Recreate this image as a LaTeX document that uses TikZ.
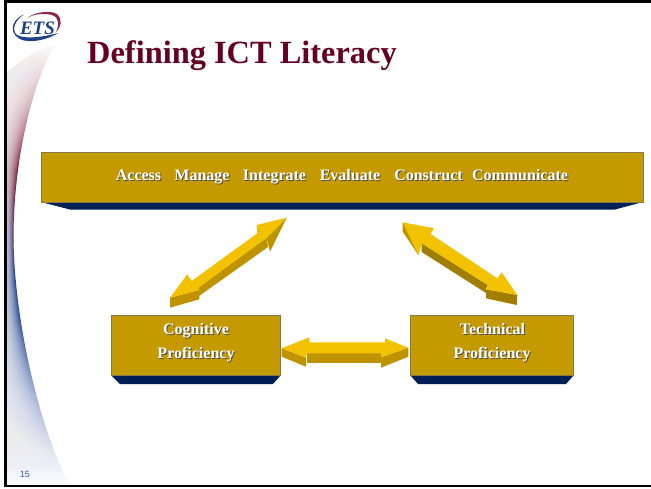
\documentclass[tikz,border=0pt]{standalone}
\usepackage{fontspec}
\setmainfont{Liberation Serif}
\newfontfamily\arialf{Liberation Sans}
\definecolor{gold}{HTML}{C49A00}
\definecolor{navy}{HTML}{001F54}
\definecolor{edgeg}{HTML}{857A45}
\definecolor{arrowtop}{HTML}{F2C200}
\definecolor{arrowlow}{HTML}{BF9300}
\definecolor{arrowdark}{HTML}{A07F00}
\definecolor{maroon}{HTML}{660022}
\definecolor{logoblue}{HTML}{1F3F8A}
\definecolor{logored}{HTML}{8A2A48}
\definecolor{numblue}{HTML}{3A5AA0}
\definecolor{sa}{HTML}{D8B8C2}
\definecolor{sb}{HTML}{B87B90}
\definecolor{sc}{HTML}{7A2540}
\definecolor{sd}{HTML}{6A2A50}
\definecolor{se}{HTML}{4A3A80}
\definecolor{sf}{HTML}{1F3F8A}
\definecolor{sg}{HTML}{2F4F98}
\definecolor{sh}{HTML}{6A82B8}
\definecolor{si}{HTML}{A8B5D8}
\definecolor{sj}{HTML}{D5DCEC}
\tikzset{
 x=1pt,y=-1pt,
 box/.style={fill=gold,draw=edgeg,line width=1pt},
 base/.style={fill=navy,draw=none},
 lab/.style={font=\bfseries\fontsize{16}{18}\selectfont,inner sep=0pt,anchor=base},
 aup/.style={fill=arrowtop,draw=none},
 alow/.style={fill=arrowlow,draw=none},
 adark/.style={fill=arrowdark,draw=none},
 frameline/.style={black,line width=2.5pt},
}
\newcommand{\swooshpath}{(5,74) .. controls (20,60) and (40,48) .. (55,45)
 .. controls (36,75) and (14,150) .. (13.5,235)
 .. controls (13.5,320) and (40,430) .. (70,486) -- (5,486) -- cycle}
\newcommand{\shlabel}[3]{%
 \node[lab,text=black!70] at (#1+1,#2+1) {#3};
 \node[lab,text=white] at (#1,#2) {#3};}
\newcommand{\vband}[4]{\shade[top color=#3,bottom color=#4] (0,#1) rectangle (90,#2+.4);}
\begin{document}
\begin{tikzpicture}
\useasboundingbox (0,0) rectangle (651,488);
\fill[white] (0,0) rectangle (651,488);
% swoosh
\begin{scope}
\clip \swooshpath;
\vband{40}{100}{white}{sa}
\vband{100}{130}{sa}{sb}
\vband{130}{170}{sb}{sc}
\vband{170}{200}{sc}{sd}
\vband{200}{240}{sd}{se}
\vband{240}{280}{se}{sf}
\vband{280}{320}{sf}{sg}
\vband{320}{360}{sg}{sh}
\vband{360}{400}{sh}{si}
\vband{400}{440}{si}{sj}
\vband{440}{488}{sj}{white}
\foreach \i in {1,...,30}{
 \pgfmathsetmacro{\sc}{1-\i/31}
 \begin{scope}[shift={(5,0)},xscale=\sc,shift={(-5,0)}]
  \fill[white,fill opacity=.05] \swooshpath;
 \end{scope}
}
\end{scope}
% frame
\draw[frameline] (651,1.3) -- (5.5,1.3) -- (5.5,486) -- (651,486);
% logo
\fill[logoblue] (24,14.5) .. controls (10,20) and (8,36) .. (24,40.5)
 .. controls (38,43) and (52,37) .. (58,33)
 .. controls (48,36) and (26,40) .. (17,35)
 .. controls (11,30) and (15,20) .. (24,14.5) -- cycle;
\fill[logored] (27,18) .. controls (35,12) and (50,10) .. (57,14)
 .. controls (63,19) and (61,28) .. (56,32)
 .. controls (59,26) and (60,18) .. (52,15)
 .. controls (44,13) and (34,14) .. (27,18) -- cycle;
\node[font=\bfseries\itshape\fontsize{19}{19}\selectfont,text=logoblue,inner sep=0pt,anchor=base] (ets) at (37.5,34.5) {ETS};
\node[font=\bfseries\fontsize{32.4}{36}\selectfont,text=maroon,inner sep=0pt,anchor=base west] (title) at (87,63) {Defining ICT Literacy};
\node[font=\arialf\fontsize{9}{10}\selectfont,text=numblue,inner sep=0pt] (num) at (25,474) {15};
% top bar
\fill[base] (41,202) -- (643,202) -- (615,209.5) -- (70,209.5) -- cycle;
\draw[box] (41.5,152.5) rectangle (643.5,202);
\shlabel{138.5}{180}{Access}
\shlabel{202}{180}{Manage}
\shlabel{274.5}{180}{Integrate}
\shlabel{350}{180}{Evaluate}
\shlabel{428.5}{180}{Construct}
\shlabel{520}{180}{Communicate}
% left box
\fill[base] (111.5,375.5) -- (280.5,375.5) -- (273,384) -- (120,384) -- cycle;
\draw[box] (111.5,315) rectangle (280.5,375.5);
\shlabel{196}{334}{Cognitive}
\shlabel{196}{358}{Proficiency}
% right box
\fill[base] (410.5,375.5) -- (573.5,375.5) -- (566,384) -- (418,384) -- cycle;
\draw[box] (410.5,315) rectangle (573.5,375.5);
\shlabel{492.5}{334}{Technical}
\shlabel{492}{358}{Proficiency}
% arrow 1
\fill[alow] (191,284) -- (198,290) -- (199,296) -- (268,247) -- (266.7,238) -- cycle;
\fill[alow] (170,297.7) -- (199.3,290) -- (199.3,299.3) -- (170,307.7) -- cycle;
\fill[alow] (266.7,238) -- (286.7,217.7) -- (270,251.7) -- cycle;
\fill[aup] (170,297.7) -- (187.3,274.3) -- (191.7,281) -- (257.3,233.3) -- (256.7,225) -- (286.7,217.7) -- (266.7,238) -- (198,288) -- (199.3,290) -- cycle;
% arrow 2
\fill[adark] (421.7,243.3) -- (487.7,285) -- (486,289.3) -- (486,293) -- (421.7,252) -- cycle;
\fill[adark] (486,289.3) -- (517.3,295) -- (516.7,305) -- (486,298.3) -- cycle;
\fill[alow] (402.7,222.3) -- (402.7,231.7) -- (418.3,255) -- (421.7,243.3) -- cycle;
\fill[aup] (402.7,222.3) -- (434,228.3) -- (430.7,234) -- (497.3,278.3) -- (501.7,272.3) -- (517.3,295) -- (486,289.3) -- (487.7,285) -- (421.7,243.3) -- (418.3,255) -- cycle;
% arrow 3
\fill[alow] (306.7,353.3) -- (381,353.3) -- (381,362.7) -- (306.7,362.7) -- cycle;
\fill[alow] (281.7,348.3) -- (306,357.7) -- (306,366.7) -- (281.7,356.7) -- cycle;
\fill[alow] (381,357.3) -- (408.3,347.7) -- (408.3,356.7) -- (381,367.7) -- cycle;
\fill[aup] (281.7,348.3) -- (309.3,337.3) -- (309.3,342.3) -- (385,342.3) -- (385,338.3) -- (408.3,347.7) -- (381,357.3) -- (381,353.3) -- (306.7,353.3) -- (306,357.7) -- cycle;
\end{tikzpicture}
\end{document}
